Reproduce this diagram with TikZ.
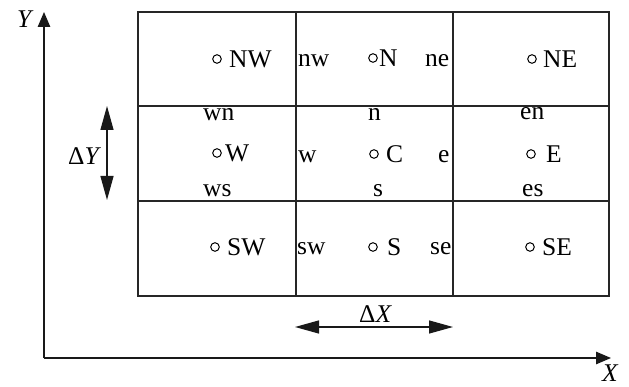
\documentclass[tikz,border=0pt]{standalone}
\usepackage{fontspec}
\setmainfont{Liberation Serif}
\usetikzlibrary{arrows.meta}
\tikzset{
  gridline/.style={draw=black!85, line width=1.4pt},
  axisline/.style={draw=black!90, line width=1.3pt},
  lbl/.style={anchor=base west, inner sep=0pt, text=black, font=\fontsize{25.5}{30}\selectfont},
  dot/.style={draw=black, line width=1pt},
  bigtips/.style={{Triangle[length=24pt,width=13pt]}-{Triangle[length=24pt,width=13pt]}},
  axtip/.style={-{Triangle[length=15pt,width=12.5pt]}}
}
\begin{document}
\begin{tikzpicture}[x=1pt,y=-1pt]
\useasboundingbox (0,0) rectangle (629,387);
% grid
\coordinate (g00) at (138,12);
\coordinate (g33) at (609,296);
\draw[gridline] (g00) rectangle (g33);
\coordinate (c1t) at (296,12); \coordinate (c1b) at (296,296);
\coordinate (c2t) at (453,12); \coordinate (c2b) at (453,296);
\coordinate (r1l) at (138,106); \coordinate (r1r) at (609,106);
\coordinate (r2l) at (138,201); \coordinate (r2r) at (609,201);
\draw[gridline] (c1t) -- (c1b);
\draw[gridline] (c2t) -- (c2b);
\draw[gridline] (r1l) -- (r1r);
\draw[gridline] (r2l) -- (r2r);
% axes
\coordinate (o) at (44,358);
\coordinate (ytop) at (44,12);
\coordinate (xend) at (611,358);
\draw[axisline,axtip] (o) -- (ytop);
\draw[axisline,axtip] (o) -- (xend);
\node[lbl] (ylab) at (17,28) {\textit{Y}};
\node[lbl] (xlab) at (602,381) {\textit{X}};
% delta arrows
\coordinate (dy1) at (107,106);
\coordinate (dy2) at (107,200);
\draw[axisline,bigtips] (dy1) -- (dy2);
\node[lbl] (dylab) at (68,165) {Δ\textit{Y}};
\coordinate (dx1) at (295,327);
\coordinate (dx2) at (453,327);
\draw[axisline,bigtips] (dx1) -- (dx2);
\node[lbl] (dxlab) at (359,323) {Δ\textit{X}};
% circles
\foreach \cx/\by in {217/68, 373/67, 532/68, 217/162, 374/163, 531/163, 215/256, 373/256, 530/256}{
  \draw[dot] (\cx,\by-9) circle (4.3pt);
}
% capital labels
\node[lbl] (NW) at (229,68) {NW};
\node[lbl] (N) at (379,67) {N};
\node[lbl] (NE) at (543,68) {NE};
\node[lbl] (W) at (225,162) {W};
\node[lbl] (C) at (386,163) {C};
\node[lbl] (E) at (546,163) {E};
\node[lbl] (SW) at (227,256) {SW};
\node[lbl] (S) at (387,256) {S};
\node[lbl] (SE) at (542,256) {SE};
% small labels
\node[lbl] (nw) at (298,67) {nw};
\node[lbl] (ne) at (425,67) {ne};
\node[lbl] (wn) at (203,121) {wn};
\node[lbl] (n) at (368,121) {n};
\node[lbl] (en) at (520,120) {en};
\node[lbl] (w) at (298,163) {w};
\node[lbl] (e) at (438,163) {e};
\node[lbl] (ws) at (203,197) {ws};
\node[lbl] (s) at (373,197) {s};
\node[lbl] (es) at (522,197) {es};
\node[lbl] (sw) at (297,255) {sw};
\node[lbl] (se) at (430,255) {se};
\end{tikzpicture}
\end{document}
